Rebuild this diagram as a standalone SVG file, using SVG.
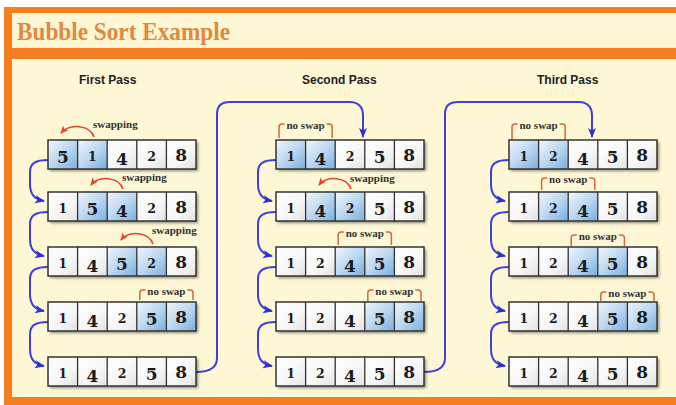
<svg xmlns="http://www.w3.org/2000/svg" width="676" height="405" viewBox="0 0 676 405">
<defs>
<style>
.n{font-family:"DejaVu Serif","Liberation Serif",serif;font-weight:bold;text-anchor:middle;fill:#1c1c1c}
.S{font-size:12.5px}
.L{font-size:17px}
.cw{fill:url(#gw)}
.cb{fill:url(#gb)}
.fr{fill:none;stroke:#333;stroke-width:1.5}
.dv{fill:none;stroke:#333;stroke-width:1.3}
.sh{fill:#000;opacity:.45;filter:url(#bl)}
.hd{font-family:"Liberation Sans",Arial,sans-serif;font-weight:bold;font-size:12px;fill:#222}
.lb{font-family:"Liberation Serif","Times New Roman",serif;font-weight:bold;font-size:11px;fill:#333}
.ns{text-anchor:middle}
.bc{fill:none;stroke:#4040d8;stroke-width:2}
.rc{fill:none;stroke:#e5452f;stroke-width:1.6}
.br{fill:none;stroke:#d5673f;stroke-width:1.5}
</style>
<linearGradient id="gw" x1="0" y1="0" x2="1" y2="1"><stop offset="0" stop-color="#ffffff"/><stop offset="0.6" stop-color="#f6f6f6"/><stop offset="1" stop-color="#e2e2e2"/></linearGradient>
<linearGradient id="gb" x1="0" y1="0" x2="1" y2="1"><stop offset="0" stop-color="#f2f7fc"/><stop offset="0.5" stop-color="#bcd8f1"/><stop offset="1" stop-color="#7aaede"/></linearGradient>
<filter id="bl" x="-10%" y="-30%" width="120%" height="160%"><feGaussianBlur stdDeviation="1.5"/></filter>
<marker id="ab" markerUnits="userSpaceOnUse" markerWidth="12" markerHeight="10" refX="9" refY="4" orient="auto"><path d="M0,0 L10,4 L0,8 L2.5,4 z" fill="#3030d0"/></marker>
<marker id="ar" markerUnits="userSpaceOnUse" markerWidth="10" markerHeight="8" refX="7" refY="3.5" orient="auto"><path d="M0,0 L8,3.5 L0,7 L2,3.5 z" fill="#e5452f"/></marker>
</defs>
<rect width="676" height="405" fill="#ffffff"/>
<rect x="4" y="7" width="672" height="398" fill="#f57d22"/>
<rect x="12" y="13" width="664" height="35" fill="#fdf7d6"/>
<rect x="12" y="59" width="664" height="338" fill="#fdf7d6"/>
<text x="17" y="40" font-family="Liberation Serif, Times New Roman, serif" font-weight="bold" font-size="25" fill="#e3893f" textLength="213" lengthAdjust="spacingAndGlyphs">Bubble Sort Example</text>
<text class="hd" x="79" y="84">First Pass</text>
<text class="hd" x="302" y="84">Second Pass</text>
<text class="hd" x="537" y="84">Third Pass</text>

<g id="connectors">
<path class="bc" marker-end="url(#ab)" d="M48,160 C36,160 30,163 30,172 L30,184 C30,194 34,199 44,201"/>
<path class="bc" marker-end="url(#ab)" d="M48,212 C36,212 30,215 30,224 L30,239 C30,249 34,254 44,256"/>
<path class="bc" marker-end="url(#ab)" d="M48,267 C36,267 30,270 30,279 L30,294 C30,304 34,309 44,311"/>
<path class="bc" marker-end="url(#ab)" d="M48,322 C36,322 30,325 30,334 L30,349 C30,359 34,364 44,366"/>
<path class="bc" marker-end="url(#ab)" d="M276,160 C264,160 258,163 258,172 L258,184 C258,194 262,199 272,201"/>
<path class="bc" marker-end="url(#ab)" d="M276,212 C264,212 258,215 258,224 L258,239 C258,249 262,254 272,256"/>
<path class="bc" marker-end="url(#ab)" d="M276,267 C264,267 258,270 258,279 L258,294 C258,304 262,309 272,311"/>
<path class="bc" marker-end="url(#ab)" d="M276,322 C264,322 258,325 258,334 L258,349 C258,359 262,364 272,366"/>
<path class="bc" marker-end="url(#ab)" d="M509,160 C497,160 491,163 491,172 L491,184 C491,194 495,199 505,201"/>
<path class="bc" marker-end="url(#ab)" d="M509,212 C497,212 491,215 491,224 L491,239 C491,249 495,254 505,256"/>
<path class="bc" marker-end="url(#ab)" d="M509,267 C497,267 491,270 491,279 L491,294 C491,304 495,309 505,311"/>
<path class="bc" marker-end="url(#ab)" d="M509,322 C497,322 491,325 491,334 L491,349 C491,359 495,364 505,366"/>
<path class="bc" marker-end="url(#ab)" d="M196,372 C210,372 217,368 217,358 L217,114 C217,106 222,102 230,102 L350,102 C358,102 363,107 363,115 L363,137"/>
<path class="bc" marker-end="url(#ab)" d="M424,372 C438,372 445,368 445,358 L445,114 C445,106 450,102 458,102 L579,102 C587,102 592,107 592,115 L592,137"/>
</g>

<g id="p1r1" transform="translate(48 140)">
<rect class="sh" x="2" y="2" width="148" height="29"/>
<rect class="cb" x="0" width="29.6" height="29"/><rect class="cb" x="29.6" width="29.6" height="29"/><rect class="cw" x="59.2" width="29.6" height="29"/><rect class="cw" x="88.8" width="29.6" height="29"/><rect class="cw" x="118.4" width="29.6" height="29"/>
<path class="dv" d="M29.6 0v29M59.2 0v29M88.8 0v29M118.4 0v29"/><rect class="fr" width="148" height="29"/>
<text class="n L" x="14.8" y="23">5</text><text class="n S" x="44.4" y="21">1</text><text class="n L" x="74" y="24.5">4</text><text class="n S" x="103.6" y="21">2</text><text class="n L" x="133.2" y="21">8</text>
</g>
<g id="p1r2" transform="translate(48 192)">
<rect class="sh" x="2" y="2" width="148" height="29"/>
<rect class="cw" x="0" width="29.6" height="29"/><rect class="cb" x="29.6" width="29.6" height="29"/><rect class="cb" x="59.2" width="29.6" height="29"/><rect class="cw" x="88.8" width="29.6" height="29"/><rect class="cw" x="118.4" width="29.6" height="29"/>
<path class="dv" d="M29.6 0v29M59.2 0v29M88.8 0v29M118.4 0v29"/><rect class="fr" width="148" height="29"/>
<text class="n S" x="14.8" y="21">1</text><text class="n L" x="44.4" y="23">5</text><text class="n L" x="74" y="24.5">4</text><text class="n S" x="103.6" y="21">2</text><text class="n L" x="133.2" y="21">8</text>
</g>
<g id="p1r3" transform="translate(48 247)">
<rect class="sh" x="2" y="2" width="148" height="29"/>
<rect class="cw" x="0" width="29.6" height="29"/><rect class="cw" x="29.6" width="29.6" height="29"/><rect class="cb" x="59.2" width="29.6" height="29"/><rect class="cb" x="88.8" width="29.6" height="29"/><rect class="cw" x="118.4" width="29.6" height="29"/>
<path class="dv" d="M29.6 0v29M59.2 0v29M88.8 0v29M118.4 0v29"/><rect class="fr" width="148" height="29"/>
<text class="n S" x="14.8" y="21">1</text><text class="n L" x="44.4" y="24.5">4</text><text class="n L" x="74" y="23">5</text><text class="n S" x="103.6" y="21">2</text><text class="n L" x="133.2" y="21">8</text>
</g>
<g id="p1r4" transform="translate(48 302)">
<rect class="sh" x="2" y="2" width="148" height="29"/>
<rect class="cw" x="0" width="29.6" height="29"/><rect class="cw" x="29.6" width="29.6" height="29"/><rect class="cw" x="59.2" width="29.6" height="29"/><rect class="cb" x="88.8" width="29.6" height="29"/><rect class="cb" x="118.4" width="29.6" height="29"/>
<path class="dv" d="M29.6 0v29M59.2 0v29M88.8 0v29M118.4 0v29"/><rect class="fr" width="148" height="29"/>
<text class="n S" x="14.8" y="21">1</text><text class="n L" x="44.4" y="24.5">4</text><text class="n S" x="74" y="21">2</text><text class="n L" x="103.6" y="23">5</text><text class="n L" x="133.2" y="21">8</text>
</g>
<g id="p1r5" transform="translate(48 357)">
<rect class="sh" x="2" y="2" width="148" height="29"/>
<rect class="cw" x="0" width="29.6" height="29"/><rect class="cw" x="29.6" width="29.6" height="29"/><rect class="cw" x="59.2" width="29.6" height="29"/><rect class="cw" x="88.8" width="29.6" height="29"/><rect class="cw" x="118.4" width="29.6" height="29"/>
<path class="dv" d="M29.6 0v29M59.2 0v29M88.8 0v29M118.4 0v29"/><rect class="fr" width="148" height="29"/>
<text class="n S" x="14.8" y="21">1</text><text class="n L" x="44.4" y="24.5">4</text><text class="n S" x="74" y="21">2</text><text class="n L" x="103.6" y="23">5</text><text class="n L" x="133.2" y="21">8</text>
</g>

<g id="p2r1" transform="translate(276 140)">
<rect class="sh" x="2" y="2" width="148" height="29"/>
<rect class="cb" x="0" width="29.6" height="29"/><rect class="cb" x="29.6" width="29.6" height="29"/><rect class="cw" x="59.2" width="29.6" height="29"/><rect class="cw" x="88.8" width="29.6" height="29"/><rect class="cw" x="118.4" width="29.6" height="29"/>
<path class="dv" d="M29.6 0v29M59.2 0v29M88.8 0v29M118.4 0v29"/><rect class="fr" width="148" height="29"/>
<text class="n S" x="14.8" y="21">1</text><text class="n L" x="44.4" y="24.5">4</text><text class="n S" x="74" y="21">2</text><text class="n L" x="103.6" y="23">5</text><text class="n L" x="133.2" y="21">8</text>
</g>
<g id="p2r2" transform="translate(276 192)">
<rect class="sh" x="2" y="2" width="148" height="29"/>
<rect class="cw" x="0" width="29.6" height="29"/><rect class="cb" x="29.6" width="29.6" height="29"/><rect class="cb" x="59.2" width="29.6" height="29"/><rect class="cw" x="88.8" width="29.6" height="29"/><rect class="cw" x="118.4" width="29.6" height="29"/>
<path class="dv" d="M29.6 0v29M59.2 0v29M88.8 0v29M118.4 0v29"/><rect class="fr" width="148" height="29"/>
<text class="n S" x="14.8" y="21">1</text><text class="n L" x="44.4" y="24.5">4</text><text class="n S" x="74" y="21">2</text><text class="n L" x="103.6" y="23">5</text><text class="n L" x="133.2" y="21">8</text>
</g>
<g id="p2r3" transform="translate(276 247)">
<rect class="sh" x="2" y="2" width="148" height="29"/>
<rect class="cw" x="0" width="29.6" height="29"/><rect class="cw" x="29.6" width="29.6" height="29"/><rect class="cb" x="59.2" width="29.6" height="29"/><rect class="cb" x="88.8" width="29.6" height="29"/><rect class="cw" x="118.4" width="29.6" height="29"/>
<path class="dv" d="M29.6 0v29M59.2 0v29M88.8 0v29M118.4 0v29"/><rect class="fr" width="148" height="29"/>
<text class="n S" x="14.8" y="21">1</text><text class="n S" x="44.4" y="21">2</text><text class="n L" x="74" y="24.5">4</text><text class="n L" x="103.6" y="23">5</text><text class="n L" x="133.2" y="21">8</text>
</g>
<g id="p2r4" transform="translate(276 302)">
<rect class="sh" x="2" y="2" width="148" height="29"/>
<rect class="cw" x="0" width="29.6" height="29"/><rect class="cw" x="29.6" width="29.6" height="29"/><rect class="cw" x="59.2" width="29.6" height="29"/><rect class="cb" x="88.8" width="29.6" height="29"/><rect class="cb" x="118.4" width="29.6" height="29"/>
<path class="dv" d="M29.6 0v29M59.2 0v29M88.8 0v29M118.4 0v29"/><rect class="fr" width="148" height="29"/>
<text class="n S" x="14.8" y="21">1</text><text class="n S" x="44.4" y="21">2</text><text class="n L" x="74" y="24.5">4</text><text class="n L" x="103.6" y="23">5</text><text class="n L" x="133.2" y="21">8</text>
</g>
<g id="p2r5" transform="translate(276 357)">
<rect class="sh" x="2" y="2" width="148" height="29"/>
<rect class="cw" x="0" width="29.6" height="29"/><rect class="cw" x="29.6" width="29.6" height="29"/><rect class="cw" x="59.2" width="29.6" height="29"/><rect class="cw" x="88.8" width="29.6" height="29"/><rect class="cw" x="118.4" width="29.6" height="29"/>
<path class="dv" d="M29.6 0v29M59.2 0v29M88.8 0v29M118.4 0v29"/><rect class="fr" width="148" height="29"/>
<text class="n S" x="14.8" y="21">1</text><text class="n S" x="44.4" y="21">2</text><text class="n L" x="74" y="24.5">4</text><text class="n L" x="103.6" y="23">5</text><text class="n L" x="133.2" y="21">8</text>
</g>

<g id="p3r1" transform="translate(509 140)">
<rect class="sh" x="2" y="2" width="148" height="29"/>
<rect class="cb" x="0" width="29.6" height="29"/><rect class="cb" x="29.6" width="29.6" height="29"/><rect class="cw" x="59.2" width="29.6" height="29"/><rect class="cw" x="88.8" width="29.6" height="29"/><rect class="cw" x="118.4" width="29.6" height="29"/>
<path class="dv" d="M29.6 0v29M59.2 0v29M88.8 0v29M118.4 0v29"/><rect class="fr" width="148" height="29"/>
<text class="n S" x="14.8" y="21">1</text><text class="n S" x="44.4" y="21">2</text><text class="n L" x="74" y="24.5">4</text><text class="n L" x="103.6" y="23">5</text><text class="n L" x="133.2" y="21">8</text>
</g>
<g id="p3r2" transform="translate(509 192)">
<rect class="sh" x="2" y="2" width="148" height="29"/>
<rect class="cw" x="0" width="29.6" height="29"/><rect class="cb" x="29.6" width="29.6" height="29"/><rect class="cb" x="59.2" width="29.6" height="29"/><rect class="cw" x="88.8" width="29.6" height="29"/><rect class="cw" x="118.4" width="29.6" height="29"/>
<path class="dv" d="M29.6 0v29M59.2 0v29M88.8 0v29M118.4 0v29"/><rect class="fr" width="148" height="29"/>
<text class="n S" x="14.8" y="21">1</text><text class="n S" x="44.4" y="21">2</text><text class="n L" x="74" y="24.5">4</text><text class="n L" x="103.6" y="23">5</text><text class="n L" x="133.2" y="21">8</text>
</g>
<g id="p3r3" transform="translate(509 247)">
<rect class="sh" x="2" y="2" width="148" height="29"/>
<rect class="cw" x="0" width="29.6" height="29"/><rect class="cw" x="29.6" width="29.6" height="29"/><rect class="cb" x="59.2" width="29.6" height="29"/><rect class="cb" x="88.8" width="29.6" height="29"/><rect class="cw" x="118.4" width="29.6" height="29"/>
<path class="dv" d="M29.6 0v29M59.2 0v29M88.8 0v29M118.4 0v29"/><rect class="fr" width="148" height="29"/>
<text class="n S" x="14.8" y="21">1</text><text class="n S" x="44.4" y="21">2</text><text class="n L" x="74" y="24.5">4</text><text class="n L" x="103.6" y="23">5</text><text class="n L" x="133.2" y="21">8</text>
</g>
<g id="p3r4" transform="translate(509 302)">
<rect class="sh" x="2" y="2" width="148" height="29"/>
<rect class="cw" x="0" width="29.6" height="29"/><rect class="cw" x="29.6" width="29.6" height="29"/><rect class="cw" x="59.2" width="29.6" height="29"/><rect class="cb" x="88.8" width="29.6" height="29"/><rect class="cb" x="118.4" width="29.6" height="29"/>
<path class="dv" d="M29.6 0v29M59.2 0v29M88.8 0v29M118.4 0v29"/><rect class="fr" width="148" height="29"/>
<text class="n S" x="14.8" y="21">1</text><text class="n S" x="44.4" y="21">2</text><text class="n L" x="74" y="24.5">4</text><text class="n L" x="103.6" y="23">5</text><text class="n L" x="133.2" y="21">8</text>
</g>
<g id="p3r5" transform="translate(509 357)">
<rect class="sh" x="2" y="2" width="148" height="29"/>
<rect class="cw" x="0" width="29.6" height="29"/><rect class="cw" x="29.6" width="29.6" height="29"/><rect class="cw" x="59.2" width="29.6" height="29"/><rect class="cw" x="88.8" width="29.6" height="29"/><rect class="cw" x="118.4" width="29.6" height="29"/>
<path class="dv" d="M29.6 0v29M59.2 0v29M88.8 0v29M118.4 0v29"/><rect class="fr" width="148" height="29"/>
<text class="n S" x="14.8" y="21">1</text><text class="n S" x="44.4" y="21">2</text><text class="n L" x="74" y="24.5">4</text><text class="n L" x="103.6" y="23">5</text><text class="n L" x="133.2" y="21">8</text>
</g>

<g id="swap-labels">
<path class="rc" marker-end="url(#ar)" d="M94,137 C90,125 70,123 61,133"/>
<text class="lb" x="93" y="128">swapping</text>
<path class="rc" marker-end="url(#ar)" d="M123,189 C119,177 99,175 91,185"/>
<text class="lb" x="122" y="181">swapping</text>
<path class="rc" marker-end="url(#ar)" d="M153,244 C149,232 129,230 121,240"/>
<text class="lb" x="152" y="234">swapping</text>
<path class="rc" marker-end="url(#ar)" d="M351,189 C347,177 327,175 319,185"/>
<text class="lb" x="350" y="182">swapping</text>
</g>

<g id="noswap-labels">
<path class="br" d="M139.8,300 L139.8,293 Q139.8,290 142.8,290 L145.4,290 M187.4,290 L190,290 Q193,290 193,293 L193,300"/>
<text class="lb ns" x="166.4" y="294.5">no swap</text>
<path class="br" d="M279,138 L279,127 Q279,124 282,124 L284.6,124 M326.6,124 L329.2,124 Q332.2,124 332.2,127 L332.2,138"/>
<text class="lb ns" x="305.6" y="128.5">no swap</text>
<path class="br" d="M338.2,245 L338.2,235 Q338.2,232 341.2,232 L343.8,232 M385.8,232 L388.4,232 Q391.4,232 391.4,235 L391.4,245"/>
<text class="lb ns" x="364.8" y="236.5">no swap</text>
<path class="br" d="M367.8,301 L367.8,293 Q367.8,290 370.8,290 L373.4,290 M415.4,290 L418,290 Q421,290 421,293 L421,301"/>
<text class="lb ns" x="394.4" y="294.5">no swap</text>
<path class="br" d="M512,139 L512,127 Q512,124 515,124 L517.6,124 M559.6,124 L562.2,124 Q565.2,124 565.2,127 L565.2,139"/>
<text class="lb ns" x="538.6" y="128.5">no swap</text>
<path class="br" d="M541.6,190 L541.6,181 Q541.6,178 544.6,178 L547.2,178 M589.2,178 L591.8,178 Q594.8,178 594.8,181 L594.8,190"/>
<text class="lb ns" x="568.2" y="182.5">no swap</text>
<path class="br" d="M571.2,246 L571.2,238 Q571.2,235 574.2,235 L576.8,235 M618.8,235 L621.4,235 Q624.4,235 624.4,238 L624.4,246"/>
<text class="lb ns" x="597.8" y="239.5">no swap</text>
<path class="br" d="M600.8,301 L600.8,295 Q600.8,292 603.8,292 L606.4,292 M648.4,292 L651,292 Q654,292 654,295 L654,301"/>
<text class="lb ns" x="627.4" y="296.5">no swap</text>
</g>
</svg>
